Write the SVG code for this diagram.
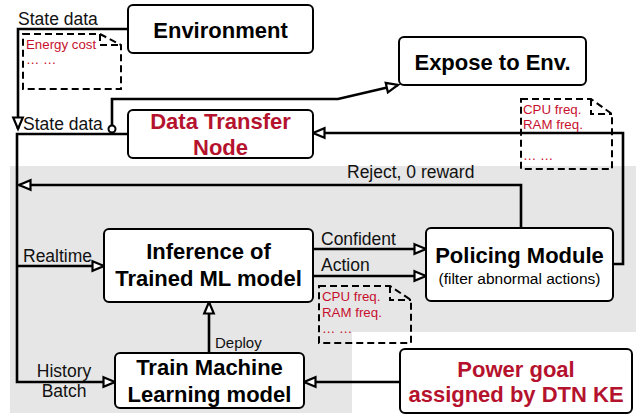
<svg xmlns="http://www.w3.org/2000/svg" width="639" height="415" viewBox="0 0 639 415">
  <defs>
    <marker id="hollow" markerUnits="userSpaceOnUse" markerWidth="16" markerHeight="14" refX="13" refY="7" orient="auto">
      <path d="M1.5,2.2 L13,7 L1.5,11.8 Z" fill="#fff" stroke="#000" stroke-width="2.2" stroke-linejoin="miter"/>
    </marker>
    <style>
      .box { fill: #fff; stroke: #000; stroke-width: 2; }
      .title { font-family: "Liberation Sans", Arial, sans-serif; font-weight: bold; font-size: 22px; text-anchor: middle; fill: #000; }
      .red { fill: #b5122e; }
      .sub { font-family: "Liberation Sans", Arial, sans-serif; font-size: 15.5px; text-anchor: middle; fill: #000; }
      .lbl { font-family: "Liberation Sans", Arial, sans-serif; font-size: 17.5px; fill: #111; }
      .note { fill: none; stroke: #000; stroke-width: 2; stroke-dasharray: 7 4; }
      .ntxt { font-family: "Liberation Sans", Arial, sans-serif; font-size: 13.3px; fill: #c8102e; }
      .wire { fill: none; stroke: #000; stroke-width: 2.6; stroke-linejoin: miter; }
    </style>
  </defs>

  <!-- shaded area around the learning loop -->
  <path d="M10,166 H636 V332 H352 V413 H10 Z" fill="#e6e6e6"/>

  <!-- connectors -->
  <g id="connectors">
    <path class="wire" d="M128,29 H18 V129" marker-end="url(#hollow)"/>
    <path class="wire" d="M128,134 H17 V382 H115" marker-end="url(#hollow)"/>
    <path class="wire" d="M17,266 H104" marker-end="url(#hollow)"/>
    <path class="wire" d="M112,125.5 V99 H338 L398,85" marker-end="url(#hollow)"/>
    <circle cx="112" cy="129" r="3.5" fill="#fff" stroke="#000" stroke-width="2"/>
    <path class="wire" d="M613,264 H623 V133 H313" marker-end="url(#hollow)"/>
    <path class="wire" d="M521,228 V185 H19" marker-end="url(#hollow)"/>
    <path class="wire" d="M313,249 H426" marker-end="url(#hollow)"/>
    <path class="wire" d="M313,276 H426" marker-end="url(#hollow)"/>
    <path class="wire" d="M209,353 V302" marker-end="url(#hollow)"/>
    <path class="wire" d="M400,382 H304" marker-end="url(#hollow)"/>
  </g>

  <!-- connector labels -->
  <g id="labels">
    <text class="lbl" x="18" y="25">State data</text>
    <text class="lbl" x="23" y="130">State data</text>
    <text class="lbl" x="23" y="262">Realtime</text>
    <text class="lbl" x="347" y="178">Reject, 0 reward</text>
    <text class="lbl" x="321" y="245">Confident</text>
    <text class="lbl" x="321" y="271">Action</text>
    <text class="lbl" x="215" y="348" style="font-size:15px">Deploy</text>
    <text class="lbl" x="64" y="377" text-anchor="middle">History</text>
    <text class="lbl" x="64" y="397" text-anchor="middle">Batch</text>
  </g>

  <!-- nodes -->
  <g id="environment">
    <rect class="box" x="128" y="5" width="185" height="48" rx="5"/>
    <text class="title" x="220.5" y="37.5">Environment</text>
  </g>
  <g id="expose">
    <rect class="box" x="399" y="37" width="187" height="48" rx="5"/>
    <text class="title" x="492.5" y="70">Expose to Env.</text>
  </g>
  <g id="data-transfer-node">
    <rect class="box" x="128" y="110" width="185" height="48" rx="5"/>
    <text class="title red" x="220.5" y="128.5">Data Transfer</text>
    <text class="title red" x="220.5" y="155">Node</text>
  </g>
  <g id="inference">
    <rect class="box" x="104" y="229" width="209" height="73" rx="5"/>
    <text class="title" x="208.5" y="259">Inference of</text>
    <text class="title" x="208.5" y="286">Trained ML model</text>
  </g>
  <g id="policing">
    <rect class="box" x="426" y="228" width="187" height="73" rx="5"/>
    <text class="title" x="519.5" y="263">Policing Module</text>
    <text class="sub" x="519.5" y="284">(filter abnormal actions)</text>
  </g>
  <g id="train">
    <rect class="box" x="115" y="353" width="189" height="55" rx="5"/>
    <text class="title" x="209.5" y="375">Train Machine</text>
    <text class="title" x="209.5" y="402">Learning model</text>
  </g>
  <g id="power-goal">
    <rect class="box" x="400" y="349" width="232" height="64" rx="5"/>
    <text class="title red" x="516" y="377">Power goal</text>
    <text class="title red" x="516" y="402">assigned by DTN KE</text>
  </g>

  <!-- dashed notes with folded corner -->
  <g id="note-energy">
    <path class="note" d="M23,34 H100 L121,45 V89 H23 Z M100,34 V45 H121"/>
    <text class="ntxt" x="26" y="49">Energy cost</text>
    <text class="ntxt" x="26" y="64">… …</text>
  </g>
  <g id="note-freq-upper">
    <path class="note" d="M521,99 H591 L612,114 V169 H521 Z M591,99 V114 H612"/>
    <text class="ntxt" x="523" y="114">CPU freq.</text>
    <text class="ntxt" x="523" y="129">RAM freq.</text>
    <text class="ntxt" x="523" y="160">… …</text>
  </g>
  <g id="note-freq-lower">
    <path class="note" d="M319,286 H390 L411,300 V343 H319 Z M390,286 V300 H411"/>
    <text class="ntxt" x="322" y="301">CPU freq.</text>
    <text class="ntxt" x="322" y="317">RAM freq.</text>
    <text class="ntxt" x="322" y="333">… …</text>
  </g>
</svg>
